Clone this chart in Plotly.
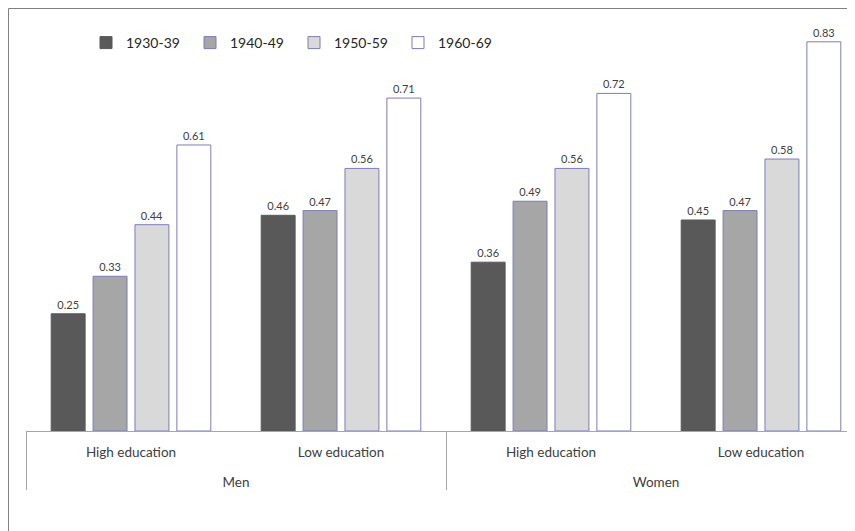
import plotly.graph_objects as go

sexes = ["Men", "Men", "Women", "Women"]
education = ["High education", "Low education", "High education", "Low education"]
cohorts = ["1930-39", "1940-49", "1950-59", "1960-69"]
values = {
    "1930-39": [0.25, 0.46, 0.36, 0.45],
    "1940-49": [0.33, 0.47, 0.49, 0.47],
    "1950-59": [0.44, 0.56, 0.56, 0.58],
    "1960-69": [0.61, 0.71, 0.72, 0.83],
}
fills = ["#595959", "#A6A6A6", "#D9D9D9", "#FFFFFF"]
outlines = ["#595959", "#7C7CB8", "#7C7CB8", "#7C7CB8"]

FONT = "Lato, 'Open Sans', sans-serif"
SPACER = "<br><span style='font-size:27px'> </span>"

fig = go.Figure()
for c, f, o in zip(cohorts, fills, outlines):
    fig.add_trace(go.Bar(
        x=[sexes, [e + SPACER for e in education]], y=values[c], name=c,
        marker=dict(color=f, line=dict(color=o, width=1)),
        text=[f"{v:.2f}" for v in values[c]], textposition="outside",
        textfont=dict(size=11, color="#404040", family=FONT),
        cliponaxis=False,
    ))

W, H = 855, 531
ml, mr, mt = 18, 0, 1
pw = W - ml - mr
ph = 422
mb = H - mt - ph
cat_px = 210.0

fig.update_layout(
    width=W, height=H,
    margin=dict(l=ml, r=mr, t=mt, b=mb, autoexpand=False),
    paper_bgcolor="white", plot_bgcolor="white",
    barmode="group", bargap=0.202, bargroupgap=0.19,
    font=dict(family=FONT, size=13.5, color="#404040"),
    showlegend=True,
    legend=dict(orientation="h", x=(78 - ml) / pw, y=1 - (35 - mt) / ph,
                xanchor="left", yanchor="middle",
                font=dict(size=14, color="#262626", family=FONT), itemwidth=30,
                entrywidth=59, traceorder="normal", bgcolor="rgba(0,0,0,0)"),
    xaxis=dict(type="multicategory", showline=True, linecolor="#A6A6A6", linewidth=1,
               range=[-0.5, -0.5 + pw / cat_px],
               ticks="", showdividers=True, dividercolor="#A6A6A6", dividerwidth=1,
               ticklabelstandoff=9,
               tickfont=dict(size=13.5, color="#404040", family=FONT)),
    yaxis=dict(range=[0, 0.9], visible=False, showgrid=False, fixedrange=True),
    shapes=[
        dict(type="line", xref="paper", yref="paper",
             x0=(0.5 - ml) / pw, x1=(W - ml) / pw, y0=1 + (mt - 0.5) / ph, y1=1 + (mt - 0.5) / ph,
             line=dict(color="#808080", width=1)),
        dict(type="line", xref="paper", yref="paper",
             x0=(0.5 - ml) / pw, x1=(0.5 - ml) / pw, y0=1 + (mt - 0.5) / ph, y1=-(mb + 2) / ph,
             line=dict(color="#808080", width=1)),
    ],
)
fig.write_html("out.html")
